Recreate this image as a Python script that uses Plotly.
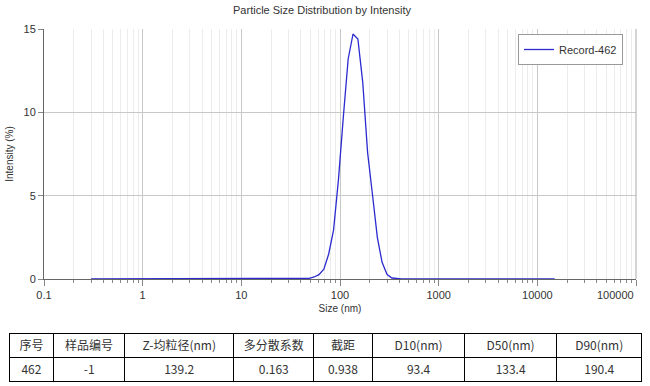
import plotly.graph_objects as go

# ---- data ----
size_nm = [0.3, 1, 10, 30, 43.6, 48.8, 54.7, 61.2, 68.6, 76.8, 86.0, 96.4, 108.0, 121.0,
           135.5, 151.8, 170.0, 190.4, 213.0, 239.0, 267.0, 300.0, 336.0, 376.0, 421.0,
           1000, 5000, 15000]
intensity = [0, 0, 0, 0, 0.01, 0.04, 0.12, 0.26, 0.59, 1.5, 2.93, 5.95, 9.7, 13.2,
             14.7, 14.4, 11.8, 7.6, 5.1, 2.5, 1.0, 0.27, 0.06, 0.01, 0,
             0, 0, 0]
series_name = "Record-462"

x_tickvals = [0.1, 1, 10, 100, 1000, 10000, 100000]
x_ticktext = ["0.1", "1", "10", "100", "1000", "10000", ""]
last_tick_label = "100000"
y_tickvals = [0, 5, 10, 15]

table_header = ["序号", "样品编号", "Z-均粒径(nm)", "多分散系数", "截距", "D10(nm)", "D50(nm)", "D90(nm)"]
table_row = ["462", "-1", "139.2", "0.163", "0.938", "93.4", "133.4", "190.4"]
col_widths = [45, 71, 110, 80, 59, 93, 92, 86]

W, H = 650, 386
txt = "#333333"
font_main = "Liberation Sans, Arial, sans-serif"

fig = go.Figure()
fig.add_trace(go.Scatter(
    x=size_nm, y=intensity, mode="lines", name=series_name,
    line=dict(color="#2b2bd0", width=1.3), showlegend=True,
))

fig.add_trace(go.Table(
    domain=dict(x=[9 / W, 642 / W], y=[1 - 382 / H, 1 - 333 / H]),
    columnwidth=col_widths,
    header=dict(values=table_header, height=24, align="center",
                line=dict(color="#000000", width=1), fill=dict(color="white"),
                font=dict(family="Noto Sans CJK SC, sans-serif", size=12, color=txt)),
    cells=dict(values=[[v] for v in table_row], height=24, align="center",
               line=dict(color="#000000", width=1), fill=dict(color="white"),
               font=dict(family="Noto Sans CJK SC, sans-serif", size=12, color=txt)),
))

fig.update_layout(
    width=W, height=H,
    margin=dict(l=0, r=0, t=0, b=0, autoexpand=False),
    paper_bgcolor="white", plot_bgcolor="white",
    font=dict(family=font_main, size=11, color=txt),
    title=dict(text="Particle Size Distribution by Intensity", x=322 / W, xanchor="center",
               y=1 - 10 / H, yanchor="middle", font=dict(size=11, color=txt)),
    legend=dict(x=623 / W, xanchor="right", y=1 - 34 / H, yanchor="top",
                bordercolor="#999999", borderwidth=1, bgcolor="white",
                font=dict(size=11, color=txt), itemwidth=30, tracegroupgap=0),
    xaxis=dict(
        type="log", range=[-1, 5], domain=[44 / W, 636 / W], automargin=False,
        tickvals=x_tickvals, ticktext=x_ticktext,
        ticks="outside", ticklen=6, tickcolor="#888888",
        showgrid=True, gridcolor="#c8c8c8", gridwidth=1,
        minor=dict(dtick="D1", showgrid=True, gridcolor="#ececec", ticks="outside",
                   ticklen=3, tickcolor="#888888"),
        showline=True, linecolor="#666666", linewidth=1, mirror=False,
        zeroline=False,
        title=dict(text="Size (nm)", font=dict(size=10, color=txt), standoff=4),
        tickfont=dict(size=11, color=txt),
    ),
    yaxis=dict(
        range=[0, 15], domain=[1 - 279 / H, 1 - 29 / H], automargin=False,
        tickvals=y_tickvals, ticks="outside", ticklen=5, tickcolor="#888888",
        showgrid=True, gridcolor="#c8c8c8",
        showline=True, linecolor="#666666", linewidth=1,
        zeroline=False,
        title=dict(text="Intensity (%)", font=dict(size=10, color=txt), standoff=8),
        tickfont=dict(size=11, color=txt),
    ),
    shapes=[dict(type="line", xref="paper", yref="y domain", x0=636 / W, x1=636 / W,
                 y0=0, y1=1, line=dict(color="#aaaaaa", width=1))],
    annotations=[dict(text=last_tick_label, xref="x", yref="paper", x=5, y=1 - 287 / H,
                      xanchor="right", yanchor="top", showarrow=False,
                      font=dict(size=11, color=txt))],
)

fig.write_html("out.html")
